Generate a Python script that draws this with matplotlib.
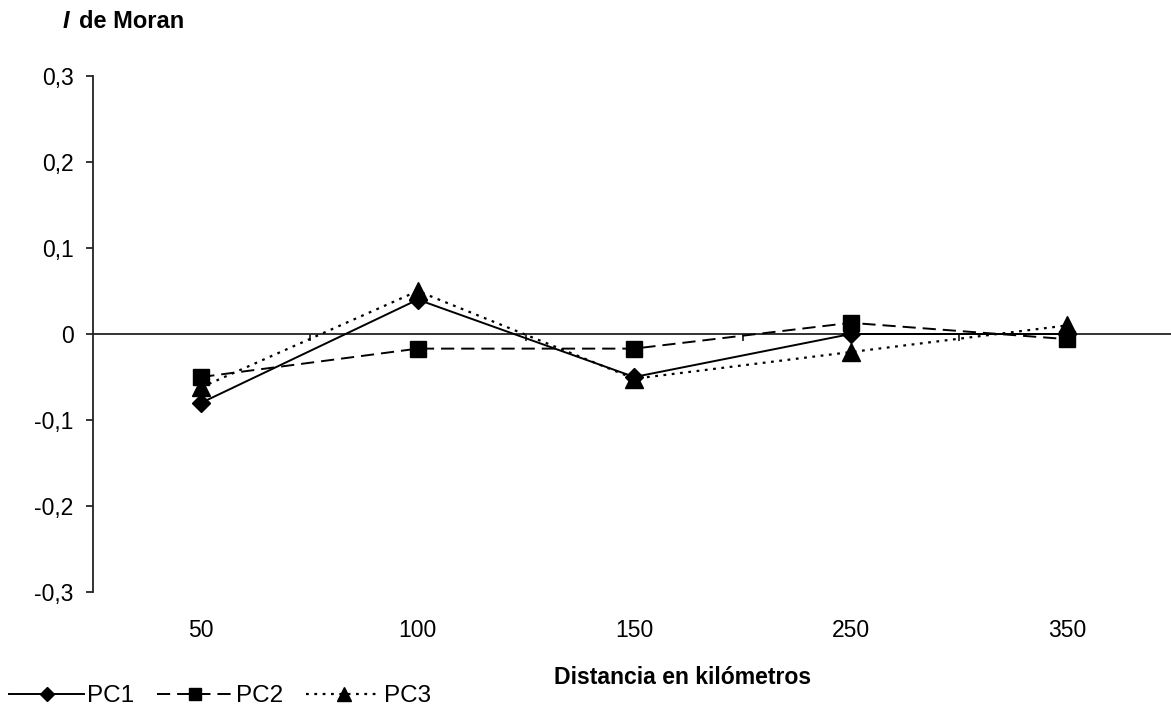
import numpy as np
import matplotlib
matplotlib.use('Agg')
import matplotlib.pyplot as plt

# Moran's I by distance class
distances = ['50', '100', '150', '250', '350']
pc1 = [-0.08, 0.04, -0.05, 0.0, 0.0]
pc2 = [-0.05, -0.017, -0.017, 0.013, -0.006]
pc3 = [-0.062, 0.05, -0.052, -0.021, 0.01]
yticks = [-0.3, -0.2, -0.1, 0.0, 0.1, 0.2, 0.3]

plt.rcParams.update({'font.family': ['Liberation Sans', 'DejaVu Sans'],
                     'font.size': 16.5, 'lines.scale_dashes': False})

W, H = 1171, 713
fig = plt.figure(figsize=(W / 100, H / 100), dpi=100)
ax = fig.add_axes([93 / W, 1 - 592 / H, 1082.5 / W, 516 / H])

x = np.arange(len(distances))
l1, = ax.plot(x, pc1, color='black', lw=1.4, marker='D', ms=9.5, label='PC1', clip_on=False)
l2, = ax.plot(x, pc2, color='black', lw=1.4, ls=(0, (9.5, 5)), marker='s', ms=11.5,
              label='PC2', clip_on=False)
l3, = ax.plot(x, pc3, color='black', lw=1.6, ls=(0, (2, 4)), marker='^', ms=13,
              label='PC3', clip_on=False)

ax.set_xlim(-0.5, len(distances) - 0.5)
ax.set_ylim(-0.3, 0.3)
for s in ['top', 'right', 'bottom']:
    ax.spines[s].set_visible(False)
ax.spines['left'].set_linewidth(1.3)
ax.spines['left'].set_color('#222222')

ax.set_yticks(yticks)
ax.set_yticklabels(['0' if v == 0 else f'{v:.1f}'.replace('.', ',') for v in yticks])
ax.tick_params(axis='y', direction='out', length=5, width=1.1, pad=9, colors='black')
ax.set_xticks(x)
ax.set_xticklabels(distances)
ax.tick_params(axis='x', length=0, pad=19.5)

# zero line with category separators
sec = ax.secondary_xaxis(0.5)
sec.set_alignment('bottom')
sec.spines['bottom'].set_linewidth(1.3)
sec.spines['bottom'].set_color('#222222')
sec.set_xticks(x[:-1] + 0.5)
sec.set_xticklabels([])
sec.tick_params(axis='x', direction='out', length=5, width=1.1)

ax.set_xlabel('Distancia en kilómetros', fontweight='bold', fontsize=16.6)
ax.xaxis.set_label_coords((683 - 93) / 1082.5, (592 - 677) / 516)
ax.xaxis.label.set_va('center')

fig.text(63 / W, 1 - 21 / H, 'I', fontweight='bold', fontstyle='italic', fontsize=17, va='center')
fig.text(79 / W, 1 - 21 / H, 'de Moran', fontweight='bold', fontsize=17, va='center')

fig.legend(handles=[l1, l2, l3], loc='center left', bbox_to_anchor=(9 / W, 1 - 696 / H),
           ncol=3, frameon=False, handlelength=3.1, handletextpad=0.12, markerscale=0.75,
           columnspacing=0.95, borderaxespad=0, borderpad=0, fontsize=17.5)

fig.savefig('out.png', dpi=100)
